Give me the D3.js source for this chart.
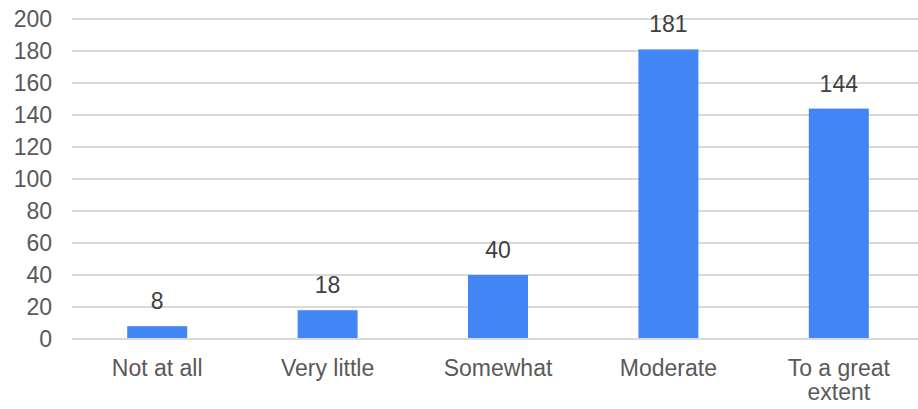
<!DOCTYPE html>
<html>
<head>
<meta charset="utf-8">
<script src="https://cdn.jsdelivr.net/npm/d3@7"></script>
<style>
  body { margin: 0; background: #fff; }
  svg { display: block; font-family: "Liberation Sans", Arial, sans-serif; }
</style>
</head>
<body>
<svg id="chart" width="918" height="409"></svg>
<script>
// data
var categories = ["Not at all", "Very little", "Somewhat", "Moderate", "To a great extent"];
var labelLines = [["Not at all"], ["Very little"], ["Somewhat"], ["Moderate"], ["To a great", "extent"]];
var counts = [8, 18, 40, 181, 144];
var yTicks = [0, 20, 40, 60, 80, 100, 120, 140, 160, 180, 200];

var svg = d3.select('#chart');

var x = d3.scaleBand()
    .domain(categories)
    .range([72, 924])
    .paddingInner(0.648)
    .paddingOuter(0.324);

var y = d3.scaleLinear()
    .domain([0, 200])
    .range([339, 19]);

// gridlines
svg.append("g")
  .selectAll("line")
  .data(yTicks)
  .enter().append("line")
  .attr("x1", 72)
  .attr("x2", 918)
  .attr("y1", function(d) { return y(d); })
  .attr("y2", function(d) { return y(d); })
  .attr("stroke", "#d9d9d9")
  .attr("stroke-width", 2);

// y axis labels
var yAxis = d3.axisLeft(y).tickValues(yTicks).tickSize(0).tickPadding(0);
var yg = svg.append("g")
  .attr("transform", "translate(52,0)")
  .call(yAxis);
yg.select(".domain").remove();
yg.selectAll("text")
  .attr("fill", "#595959")
  .attr("font-size", "23px")
  .attr("font-family", "Liberation Sans, Arial, sans-serif");

// bars
svg.append("g")
  .selectAll("rect")
  .data(counts)
  .enter().append("rect")
  .attr("x", function(d, i) { return x(categories[i]); })
  .attr("y", function(d) { return y(d); })
  .attr("width", x.bandwidth())
  .attr("height", function(d) { return y(0) - y(d) - 1; })
  .attr("fill", "#4285f4");

// value labels
svg.append("g")
  .selectAll("text")
  .data(counts)
  .enter().append("text")
  .attr("x", function(d, i) { return x(categories[i]) + x.bandwidth() / 2; })
  .attr("y", function(d) { return y(d) - 17; })
  .attr("text-anchor", "middle")
  .attr("fill", "#404040")
  .attr("font-size", "23px")
  .text(function(d) { return d; });

// category labels
var cat = svg.append("g")
  .selectAll("text")
  .data(labelLines)
  .enter().append("text")
  .attr("text-anchor", "middle")
  .attr("fill", "#595959")
  .attr("font-size", "23px");

cat.each(function(lines, i) {
  var cx = x(categories[i]) + x.bandwidth() / 2;
  d3.select(this).selectAll("tspan")
    .data(lines)
    .enter().append("tspan")
    .attr("x", cx)
    .attr("y", function(d, j) { return 376 + j * 24; })
    .text(function(d) { return d; });
});
</script>
</body>
</html>
